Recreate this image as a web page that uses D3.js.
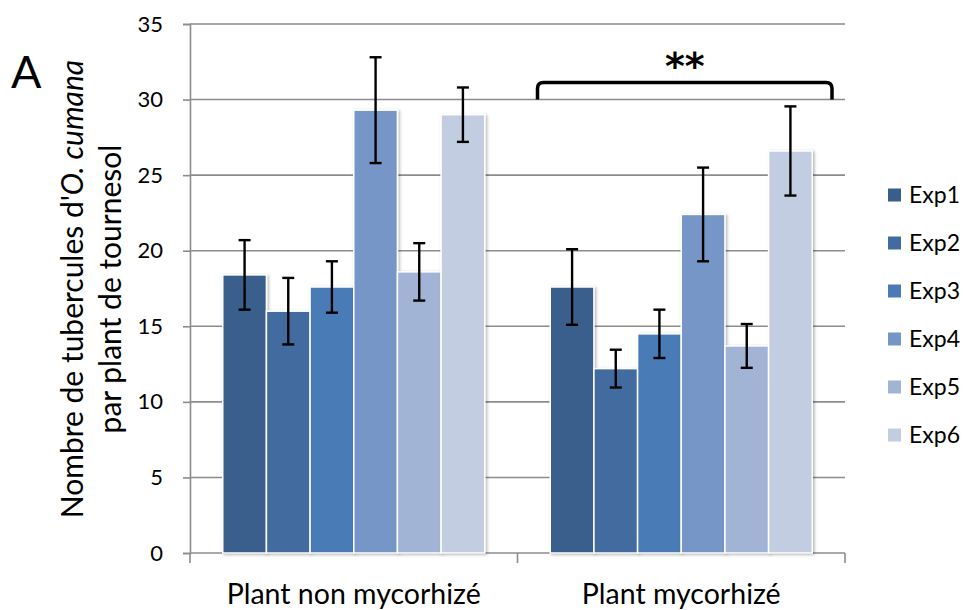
<!DOCTYPE html>
<html>
<head>
<meta charset="utf-8">
<script src="https://cdn.jsdelivr.net/npm/d3@7"></script>
<style>
  html, body { margin: 0; padding: 0; background: #fff; }
  svg { display: block; font-family: Lato, "Open Sans", "DejaVu Sans", sans-serif; }
</style>
</head>
<body>
<svg id="chart" width="963" height="610"></svg>
<script>
// Groups, experiments and measured means / standard errors
const groups = ["Plant non mycorhizé", "Plant mycorhizé"];
const experiments = ["Exp1", "Exp2", "Exp3", "Exp4", "Exp5", "Exp6"];
const meansNonMyco = [18.4, 16.0, 17.6, 29.3, 18.6, 29.0];
const errNonMyco   = [2.3, 2.2, 1.7, 3.5, 1.9, 1.8];
const meansMyco    = [17.6, 12.2, 14.5, 22.4, 13.7, 26.6];
const errMyco      = [2.5, 1.25, 1.6, 3.1, 1.45, 2.95];
const yTicks = [0, 5, 10, 15, 20, 25, 30, 35];
const colors = ["#3a5e8c", "#426ca0", "#4a7bb6", "#7496c6", "#a2b4d5", "#c3cde2"];

const rows = [];
[meansNonMyco, meansMyco].forEach((means, gi) => {
  const errs = gi === 0 ? errNonMyco : errMyco;
  means.forEach((v, i) => rows.push({ group: groups[gi], exp: experiments[i], value: v, err: errs[i] }));
});

const svg = d3.select("#chart");
const plot = { left: 190, right: 845, top: 24, bottom: 553 };

const x0 = d3.scaleBand().domain(groups).range([plot.left, plot.right]);
const x1 = d3.scaleBand().domain(experiments)
  .range([x0.bandwidth() * 0.1, x0.bandwidth() * 0.9]);
const y = d3.scaleLinear().domain([0, 35]).range([plot.bottom, plot.top]);
const color = d3.scaleOrdinal().domain(experiments).range(colors);

// soft shadow under the bars
const defs = svg.append("defs");
const f = defs.append("filter").attr("id", "shadow")
  .attr("x", "-20%").attr("y", "-20%").attr("width", "140%").attr("height", "140%");
f.append("feDropShadow").attr("dx", 1.5).attr("dy", 1).attr("stdDeviation", 1.6)
  .attr("flood-color", "#000").attr("flood-opacity", 0.3);

// horizontal gridlines
svg.append("g").selectAll("line").data(yTicks).join("line")
  .attr("x1", plot.left).attr("x2", plot.right)
  .attr("y1", d => y(d)).attr("y2", d => y(d))
  .attr("stroke", "#8c8c8c").attr("stroke-width", 1.6);

// y axis
const yAxis = svg.append("g").attr("transform", `translate(${plot.left},0)`)
  .call(d3.axisLeft(y).tickValues(yTicks).tickSize(7).tickPadding(20));
yAxis.select(".domain").attr("stroke", "#8c8c8c").attr("stroke-width", 1.6);
yAxis.selectAll(".tick line").attr("stroke", "#8c8c8c").attr("stroke-width", 1.6);
yAxis.selectAll(".tick text").attr("font-size", 22).attr("fill", "#000")
  .attr("font-family", "Lato, 'Open Sans', sans-serif");

// x axis (ticks on group boundaries)
const xBounds = [plot.left, ...groups.map(g => x0(g) + x0.bandwidth())];
svg.append("g").selectAll("line").data(xBounds).join("line")
  .attr("x1", d => d).attr("x2", d => d)
  .attr("y1", plot.bottom).attr("y2", plot.bottom + 10)
  .attr("stroke", "#8c8c8c").attr("stroke-width", 1.6);
svg.append("g").selectAll("text").data(groups).join("text")
  .attr("x", d => x0(d) + x0.bandwidth() / 2)
  .attr("y", 604)
  .attr("text-anchor", "middle")
  .attr("font-size", 28.5)
  .text(d => d);

// bars
const barG = svg.append("g");
barG.selectAll("rect").data(rows).join("rect")
  .attr("x", d => x0(d.group) + x1(d.exp))
  .attr("width", x1.bandwidth())
  .attr("y", d => y(d.value))
  .attr("height", d => y(0) - y(d.value))
  .attr("fill", d => color(d.exp))
  .attr("stroke", "#fff").attr("stroke-width", 1.5)
  .attr("filter", "url(#shadow)");

// error bars
const capW = 12;
const errG = svg.append("g").attr("stroke", "#000").attr("stroke-width", 2.4);
rows.forEach(d => {
  const cx = x0(d.group) + x1(d.exp) + x1.bandwidth() / 2;
  const yt = y(d.value + d.err), yb = y(d.value - d.err);
  errG.append("line").attr("x1", cx).attr("x2", cx).attr("y1", yt).attr("y2", yb);
  errG.append("line").attr("x1", cx - capW / 2).attr("x2", cx + capW / 2).attr("y1", yt).attr("y2", yt);
  errG.append("line").attr("x1", cx - capW / 2).attr("x2", cx + capW / 2).attr("y1", yb).attr("y2", yb);
});

// significance bracket over the mycorrhized group
const g2 = groups[1];
const bx1 = x0(g2) + 20, bx2 = x0(g2) + x0.bandwidth() - 13;
const byBase = y(30), byTop = y(30) - 17, r = 6;
svg.append("path")
  .attr("d", `M${bx1},${byBase} L${bx1},${byTop + r} Q${bx1},${byTop} ${bx1 + r},${byTop}
              L${bx2 - r},${byTop} Q${bx2},${byTop} ${bx2},${byTop + r} L${bx2},${byBase}`)
  .attr("fill", "none").attr("stroke", "#000").attr("stroke-width", 3.5);
svg.append("text")
  .attr("x", (bx1 + bx2) / 2).attr("y", 79)
  .attr("text-anchor", "middle")
  .attr("font-size", 38).attr("font-weight", "bold")
  .attr("font-family", "'DejaVu Sans', sans-serif")
  .text("**");

// y axis title
const title = svg.append("text")
  .attr("transform", "translate(0,289) rotate(-90)")
  .attr("text-anchor", "middle")
  .attr("font-size", 30);
title.append("tspan").attr("x", 0).attr("y", 83)
  .text("Nombre de tubercules d'")
  .append("tspan").attr("font-style", "italic").text("O. cumana");
title.append("tspan").attr("x", 0).attr("y", 121).text("par plant de tournesol");

// panel letter
svg.append("text").attr("x", 11).attr("y", 88)
  .attr("font-size", 45).text("A");

// legend
const legend = svg.append("g").attr("transform", "translate(888,195)");
const li = legend.selectAll("g").data(experiments).join("g")
  .attr("transform", (d, i) => `translate(0,${i * 48})`);
li.append("rect").attr("x", 0).attr("y", -6.5).attr("width", 13).attr("height", 13)
  .attr("fill", d => color(d));
li.append("text").attr("x", 21).attr("y", 0).attr("dy", "0.35em")
  .attr("font-size", 23).text(d => d);
</script>
</body>
</html>
